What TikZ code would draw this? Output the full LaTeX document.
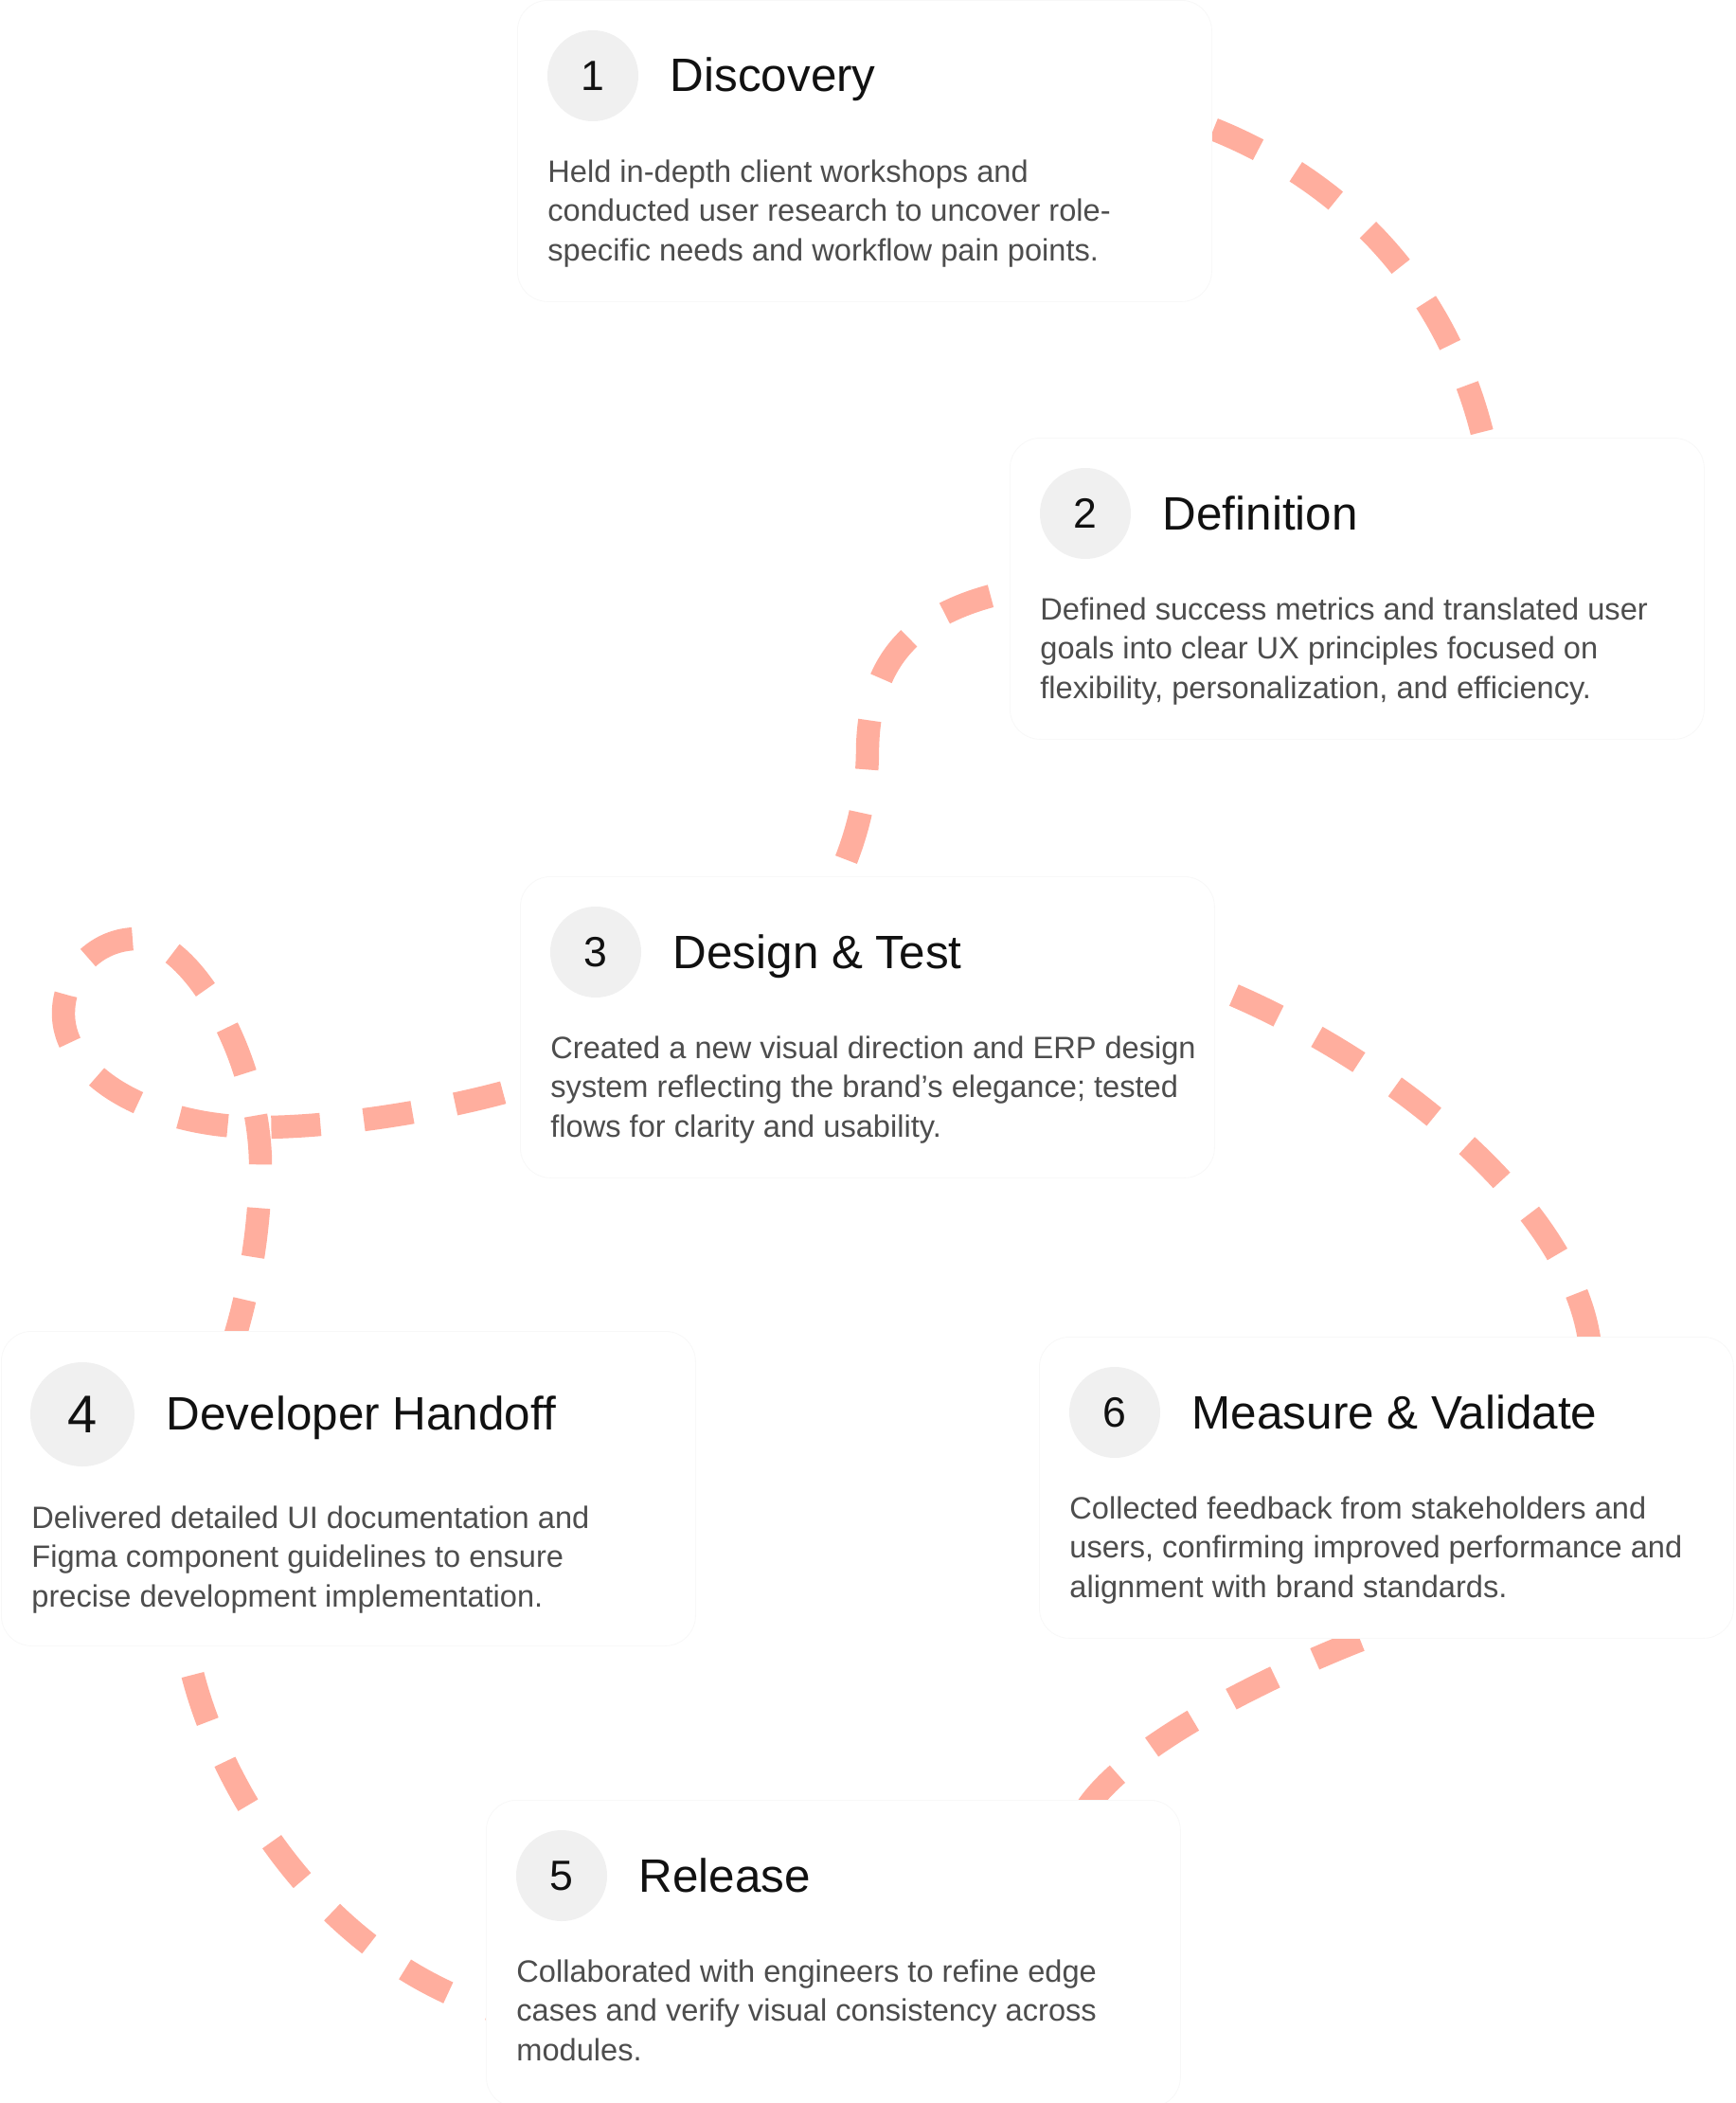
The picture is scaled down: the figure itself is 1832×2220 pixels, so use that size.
\documentclass[tikz,border=0pt]{standalone}
\usepackage{fontspec}
\setmainfont{Liberation Sans}
\usepackage{xcolor}
\usetikzlibrary{positioning, calc, backgrounds}
\definecolor{salmon}{HTML}{FFAE9E}
\definecolor{circgray}{HTML}{F0F0F0}
\definecolor{txtgray}{HTML}{4D4D4D}
\definecolor{ink}{HTML}{111111}
\definecolor{edge}{HTML}{F8F8F8}
\tikzset{
  card/.style={rectangle, draw=edge, line width=0.4pt, fill=white, rounded corners=16pt, minimum width=366.5pt, minimum height=159pt, anchor=north west, inner sep=0pt},
  num/.style={circle, fill=circgray, minimum size=48pt, inner sep=0pt, text=ink, font=\fontsize{22.3}{26}\selectfont},
  bignum/.style={num, minimum size=55pt, font=\fontsize{28}{32}\selectfont},
  title/.style={anchor=base west, inner sep=0pt, text=ink, font=\fontsize{24.7}{30}\selectfont},
  desc/.style={anchor=north west, align=left, inner sep=0pt, text=txtgray, font=\fontsize{16.3}{20.85}\selectfont},
  trail/.style={draw=salmon, line width=12.2pt, dash pattern=on 26pt off 23pt},
}

\begin{document}
\begin{tikzpicture}[x=0.5pt, y=-0.5pt]
  \useasboundingbox (0,0) rectangle (1832,2220);

  % Discovery
  \node[card] (c1) at (546,0) {};
  \node[num] (n1) at ([shift={(80,80)}]c1.north west) {1};
  \node[title] (t1) at ([shift={(33,17)}]n1.east) {Discovery};
  \node[desc] (d1) at ([shift={(32,168)}]c1.north west) {Held in-depth client workshops and\\conducted user research to uncover role-\\specific needs and workflow pain points.};

  % Definition
  \node[card] (c2) at (1066,462) {};
  \node[num] (n2) at ([shift={(80,80)}]c2.north west) {2};
  \node[title] (t2) at ([shift={(33,17)}]n2.east) {Definition};
  \node[desc] (d2) at ([shift={(32,168)}]c2.north west) {Defined success metrics and translated user\\goals into clear UX principles focused on\\flexibility, personalization, and efficiency.};

  % Design & Test
  \node[card] (c3) at (549,925) {};
  \node[num] (n3) at ([shift={(80,80)}]c3.north west) {3};
  \node[title] (t3) at ([shift={(33,17)}]n3.east) {Design \& Test};
  \node[desc] (d3) at ([shift={(32,168)}]c3.north west) {Created a new visual direction and ERP design\\system reflecting the brand’s elegance; tested\\flows for clarity and usability.};

  % Developer Handoff
  \node[card, minimum height=166pt] (c4) at (1,1405) {};
  \node[bignum] (n4) at ([shift={(86,88)}]c4.north west) {4};
  \node[title] (t4) at ([shift={(33,16)}]n4.east) {Developer Handoff};
  \node[desc] (d4) at ([shift={(32,184)}]c4.north west) {Delivered detailed UI documentation and\\Figma component guidelines to ensure\\precise development implementation.};

  % Release
  \node[card, minimum height=162pt] (c5) at (513,1900) {};
  \node[num] (n5) at ([shift={(80,80)}]c5.north west) {5};
  \node[title] (t5) at ([shift={(33,17)}]n5.east) {Release};
  \node[desc] (d5) at ([shift={(32,168)}]c5.north west) {Collaborated with engineers to refine edge\\cases and verify visual consistency across\\modules.};

  % Measure & Validate
  \node[card] (c6) at (1097,1411) {};
  \node[num] (n6) at ([shift={(80,80)}]c6.north west) {6};
  \node[title] (t6) at ([shift={(33,17)}]n6.east) {Measure \& Validate};
  \node[desc] (d6) at ([shift={(32,168)}]c6.north west) {Collected feedback from stakeholders and\\users, confirming improved performance and\\alignment with brand standards.};

  % Dashed trail behind the cards
  \begin{scope}[on background layer]
    \fill[white] (0,0) rectangle (1832,2220);
    \draw[trail, dash phase=27.5pt] ([shift={(-39,122)}]c1.north east) .. controls (1410,175) and (1530,300) .. ([shift={(502,8)}]c2.north west);
    \draw[trail, dash phase=26.5pt] ([shift={(24,158)}]c2.north west) .. controls (960,640) and (918,700) .. (916,790)
      .. controls (916,850) and (900,900) .. ([shift={(323,30)}]c3.north west);
    \draw[trail, dash phase=34pt] ([shift={(11,220)}]c3.north west) .. controls (480,1170) and (360,1190) .. (275,1190)
      .. controls (160,1190) and (67,1136) .. (67,1070)
      .. controls (67,1026) and (102,991) .. (145,991)
      .. controls (200,991) and (272,1110) .. (275,1225)
      .. controls (275,1300) and (262,1370) .. ([shift={(241,25)}]c4.north west);
    \draw[trail, dash phase=25pt] ([shift={(194,-17)}]c4.south west) .. controls (205,1830) and (310,2060) .. ([shift={(17,225)}]c5.north west);
    \draw[trail, dash phase=31pt] ([shift={(373,-11)}]c6.south west) .. controls (1380,1750) and (1180,1840) .. ([shift={(-106,20)}]c5.north east);
    \draw[trail, dash phase=21pt] ([shift={(-32,105)}]c3.north east) .. controls (1450,1100) and (1680,1280) .. ([shift={(583,29)}]c6.north west);
  \end{scope}
\end{tikzpicture}
\end{document}
